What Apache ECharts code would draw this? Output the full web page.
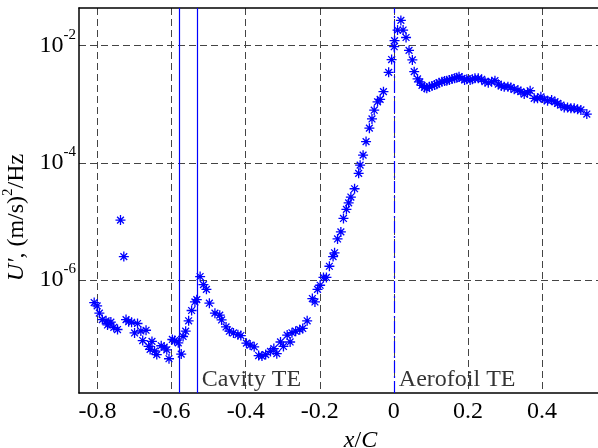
<!DOCTYPE html>
<html>
<head>
<meta charset="utf-8">
<script src="https://cdn.jsdelivr.net/npm/echarts@6/dist/echarts.min.js"></script>
<style>
  html, body { margin: 0; padding: 0; background: #fff; }
  #chart { width: 598px; height: 448px; }
</style>
</head>
<body>
<div id="chart"></div>
<script>
(function () {
  "use strict";

  // ── Data (x/C positions and spectral levels U') ──
  var xC = [
    -0.809, -0.801, -0.795, -0.787, -0.777, -0.773, -0.769, -0.764, -0.756, -0.746,
    -0.738, -0.729, -0.723, -0.716, -0.708, -0.700, -0.692, -0.683, -0.678, -0.669,
    -0.662, -0.658, -0.653, -0.646, -0.640, -0.628, -0.620, -0.613, -0.607, -0.598,
    -0.592, -0.582, -0.574, -0.569, -0.562, -0.554, -0.546, -0.537, -0.532, -0.523,
    -0.514, -0.506, -0.498, -0.483, -0.470, -0.465, -0.453, -0.444, -0.433, -0.421,
    -0.413, -0.398, -0.388, -0.377, -0.365, -0.356, -0.346, -0.333, -0.324, -0.316,
    -0.306, -0.298, -0.288, -0.280, -0.275, -0.265, -0.254, -0.246, -0.234, -0.220,
    -0.213, -0.206, -0.199, -0.190, -0.182, -0.174, -0.164, -0.160, -0.152, -0.143,
    -0.136, -0.128, -0.122, -0.116, -0.106, -0.095, -0.091, -0.083, -0.075, -0.066,
    -0.059, -0.053, -0.044, -0.037, -0.028, -0.014, -0.006, 0.001, 0.002, 0.010,
    0.019, 0.025, 0.033, 0.041, 0.050, 0.055, 0.064, 0.070, 0.076, 0.083,
    0.089, 0.096, 0.103, 0.110, 0.116, 0.122, 0.130, 0.137, 0.143, 0.150,
    0.157, 0.164, 0.170, 0.176, 0.184, 0.191, 0.197, 0.206, 0.212, 0.219,
    0.228, 0.237, 0.246, 0.255, 0.264, 0.273, 0.282, 0.290, 0.298, 0.308,
    0.316, 0.325, 0.335, 0.343, 0.352, 0.361, 0.368, 0.379, 0.388, 0.397,
    0.406, 0.415, 0.426, 0.435, 0.442, 0.451, 0.460, 0.469, 0.478, 0.487,
    0.496, 0.505, 0.521
  ];
  var uPrime = [
    4.1e-7, 3.6e-7, 2.7e-7, 2.1e-7, 2.0e-7, 1.7e-7, 1.8e-7, 1.9e-7, 1.55e-7, 1.42e-7,
    1.05e-5, 2.5e-6, 2.1e-7, 1.93e-7, 1.89e-7, 1.24e-7, 1.8e-7, 1.34e-7, 9.2e-8, 1.38e-7,
    7.3e-8, 6.5e-8, 8.9e-8, 6.1e-8, 5.3e-8, 7.5e-8, 7.1e-8, 6.4e-8, 4.5e-8, 9.6e-8,
    9.2e-8, 8.4e-8, 5.4e-8, 1.08e-7, 1.33e-7, 2.0e-7, 3.0e-7, 4.2e-7, 4.6e-7, 1.14e-6,
    8.3e-7, 6.9e-7, 4.0e-7, 2.7e-7, 2.5e-7, 2.07e-7, 1.57e-7, 1.33e-7, 1.24e-7, 1.16e-7,
    1.12e-7, 8.3e-8, 7.7e-8, 7.2e-8, 5.1e-8, 5.0e-8, 5.3e-8, 6.0e-8, 6.7e-8, 5.5e-8,
    8.7e-8, 7.3e-8, 1.14e-7, 8.7e-8, 1.25e-7, 1.33e-7, 1.41e-7, 1.48e-7, 2.0e-7, 4.8e-7,
    4.2e-7, 6.9e-7, 8.1e-7, 1.10e-6, 1.10e-6, 1.71e-6, 2.5e-6, 2.9e-6, 5.0e-6, 6.6e-6,
    1.12e-5, 1.6e-5, 2.07e-5, 2.6e-5, 3.6e-5, 6.6e-5, 9.1e-5, 1.35e-4, 2.3e-4, 3.9e-4,
    5.6e-4, 7.9e-4, 1.10e-3, 1.21e-3, 1.64e-3, 3.5e-3, 5.8e-3, 9.6e-3, 1.22e-2, 1.85e-2,
    2.7e-2, 1.85e-2, 1.38e-2, 8.3e-3, 5.7e-3, 3.6e-3, 2.7e-3, 2.4e-3, 2.1e-3, 1.94e-3,
    1.87e-3, 1.99e-3, 2.05e-3, 2.13e-3, 2.2e-3, 2.33e-3, 2.43e-3, 2.5e-3, 2.52e-3, 2.6e-3,
    2.7e-3, 2.77e-3, 2.84e-3, 2.95e-3, 2.77e-3, 2.6e-3, 2.67e-3, 2.6e-3, 2.67e-3, 2.77e-3,
    2.77e-3, 2.67e-3, 2.43e-3, 2.33e-3, 2.43e-3, 2.52e-3, 2.2e-3, 2.05e-3, 1.99e-3, 1.99e-3,
    1.94e-3, 1.80e-3, 1.75e-3, 1.64e-3, 1.49e-3, 1.57e-3, 1.70e-3, 1.26e-3, 1.26e-3, 1.34e-3,
    1.21e-3, 1.15e-3, 1.18e-3, 1.10e-3, 1.03e-3, 9.7e-4, 8.8e-4, 8.8e-4, 8.5e-4, 8.5e-4,
    8.2e-4, 8.0e-4, 6.8e-4
  ];

  // axis ranges and ticks
  var X_MIN = -0.85, X_MAX = 0.67;
  var Y_MIN = 1.17e-8, Y_MAX = 0.044;
  var xTicks = [-0.8, -0.6, -0.4, -0.2, 0, 0.2, 0.4];
  var yTicks = [1e-6, 1e-4, 1e-2];

  // reference lines (x/C) and their text
  var solidLines = [-0.583, -0.532];
  var dashDotLines = [0];
  var noteX = [-0.532, 0];
  var noteY = [2.0e-8, 2.0e-8];
  var noteText = ["Cavity TE", "Aerofoil TE"];

  var FONT = "Liberation Serif";
  var FS = 24;
  var BLUE = "#0000ff";
  var GRID_LINE = { color: "#444", width: 1, type: [7, 4] };
  var ASTERISK = "path://M0,5L10,5M5,0L5,10M1.6,1.6L8.4,8.4M1.6,8.4L8.4,1.6";

  var points = [];
  for (var i = 0; i < xC.length; i++) points.push([xC[i], uPrime[i]]);

  var notes = [];
  for (var n = 0; n < noteText.length; n++) notes.push([noteX[n], noteY[n], noteText[n]]);

  function refLines(values) {
    var out = [];
    for (var k = 0; k < values.length; k++) out.push({ xAxis: values[k] });
    return out;
  }

  function refLineSeries(name, values, dash) {
    return {
      name: name,
      type: "line",
      data: [],
      silent: true,
      markLine: {
        silent: true,
        animation: false,
        symbol: ["none", "none"],
        label: { show: false },
        lineStyle: { color: BLUE, width: 1.2, type: dash, opacity: 1 },
        emphasis: { disabled: true },
        data: refLines(values)
      },
      z: 5
    };
  }

  var chart = echarts.init(document.getElementById("chart"), null, { renderer: "canvas" });

  var option = {
    animation: false,
    backgroundColor: "#fff",
    textStyle: { fontFamily: FONT, color: "#000" },
    grid: {
      left: 79, top: 8, right: -44, bottom: 55,
      containLabel: false,
      outerBoundsMode: "none"
    },
    xAxis: [
      {
        type: "value",
        min: X_MIN,
        max: X_MAX,
        name: "{i|x}{n|/}{i|C}",
        nameLocation: "middle",
        nameGap: 30,
        nameTextStyle: {
          fontFamily: FONT,
          rich: {
            i: { fontFamily: FONT, fontSize: FS, fontStyle: "italic", color: "#000" },
            n: { fontFamily: FONT, fontSize: FS, color: "#000" }
          }
        },
        axisLine: { onZero: false, lineStyle: { color: "#000", width: 1.5 } },
        axisTick: { show: false, customValues: xTicks },
        axisLabel: {
          customValues: xTicks,
          fontFamily: FONT,
          fontSize: FS,
          color: "#000",
          margin: 7
        },
        splitLine: { show: true, lineStyle: GRID_LINE }
      },
      {
        type: "value",
        position: "top",
        min: X_MIN,
        max: X_MAX,
        axisLine: { onZero: false, lineStyle: { color: "#000", width: 1.5 } },
        axisTick: { show: false },
        axisLabel: { show: false },
        splitLine: { show: false }
      }
    ],
    yAxis: {
      type: "log",
      logBase: 10,
      min: Y_MIN,
      max: Y_MAX,
      name: "{i|U\u2032}{n|, (m/s)}{s|2}{n|/Hz}",
      nameLocation: "middle",
      nameGap: 41,
      nameRotate: 90,
      nameTextStyle: {
        fontFamily: FONT,
        padding: [0, 34, 0, 0],
        rich: {
          i: { fontFamily: FONT, fontSize: FS, fontStyle: "italic", color: "#000", lineHeight: 32 },
          n: { fontFamily: FONT, fontSize: FS, color: "#000", lineHeight: 32 },
          s: { fontFamily: FONT, fontSize: 15, color: "#000", verticalAlign: "top" }
        }
      },
      axisLine: { onZero: false, lineStyle: { color: "#000", width: 1.5 } },
      axisTick: { show: false, customValues: yTicks },
      axisLabel: {
        customValues: yTicks,
        margin: 3,
        formatter: function (v) {
          return "{b|10}{s|" + Math.round(Math.log10(v)) + "}";
        },
        rich: {
          b: { fontFamily: FONT, fontSize: FS, color: "#000", lineHeight: 36 },
          s: { fontFamily: FONT, fontSize: 15, color: "#000", verticalAlign: "top" }
        }
      },
      splitLine: { show: true, lineStyle: GRID_LINE }
    },
    series: [
      {
        name: "U'",
        type: "scatter",
        data: points,
        symbol: ASTERISK,
        symbolSize: 10,
        itemStyle: { color: "transparent", borderColor: BLUE, borderWidth: 1.3, opacity: 1 },
        z: 3
      },
      refLineSeries("solid", solidLines, "solid"),
      refLineSeries("dashdot", dashDotLines, [12, 3, 2, 3]),
      {
        name: "notes",
        type: "scatter",
        data: notes,
        symbolSize: 0,
        silent: true,
        label: {
          show: true,
          position: "right",
          distance: 5,
          fontFamily: FONT,
          fontSize: FS,
          color: "#000",
          formatter: function (p) { return p.data[2]; }
        },
        z: 4
      }
    ]
  };

  chart.setOption(option);
})();
</script>
</body>
</html>
